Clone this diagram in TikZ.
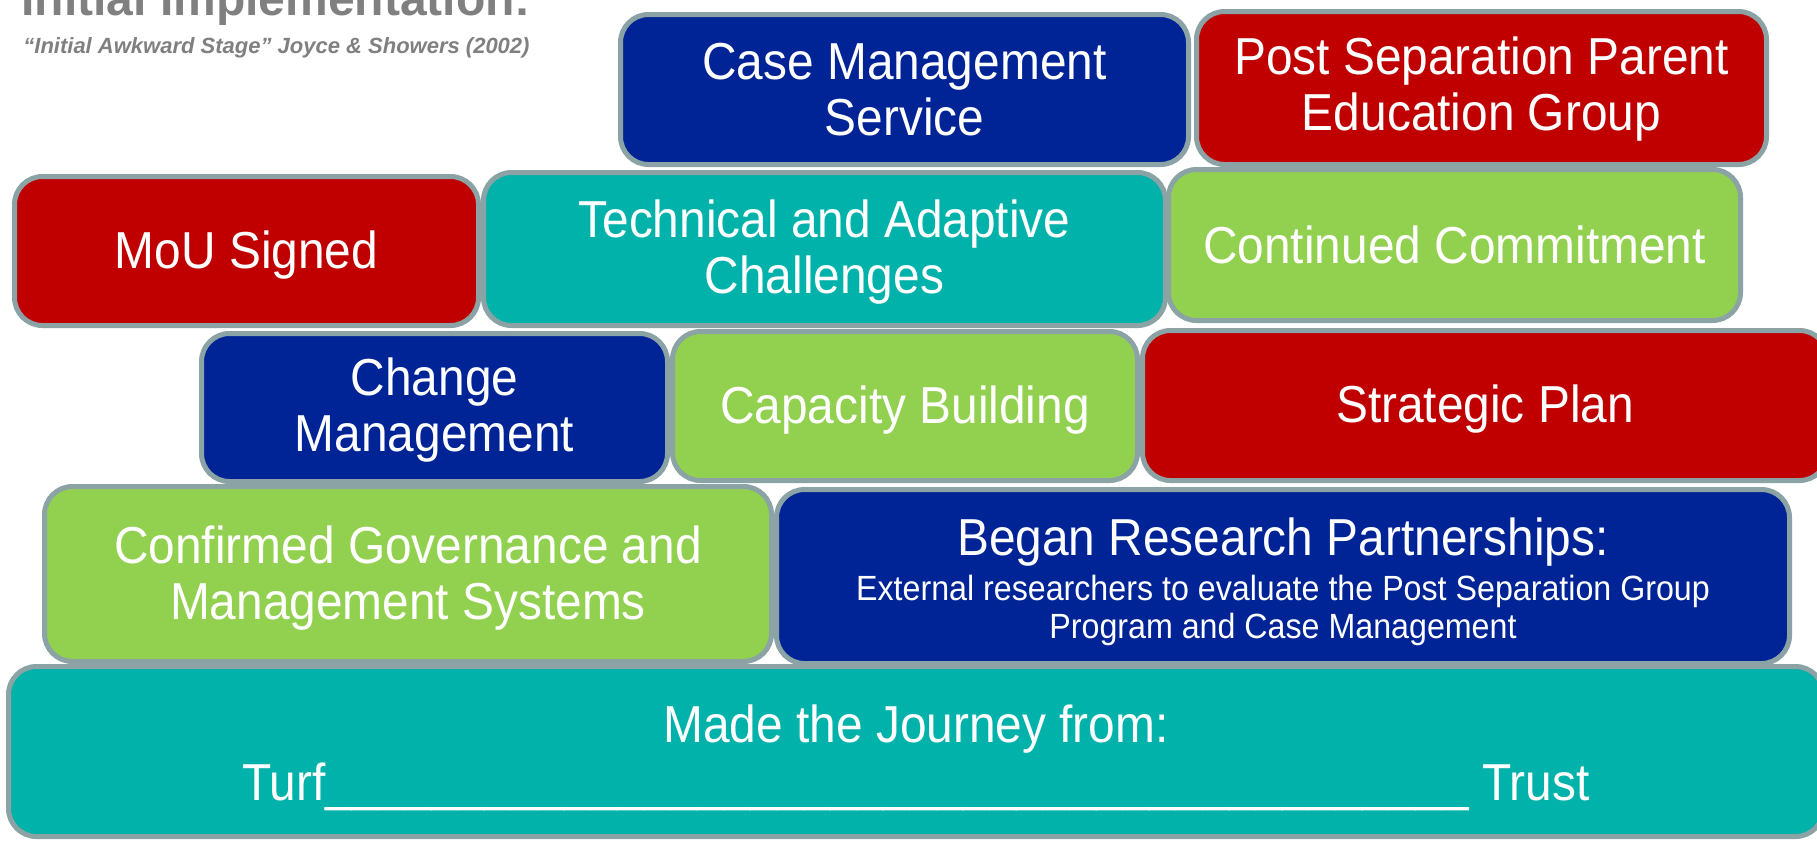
\documentclass[tikz,border=0pt]{standalone}
\usepackage{fontspec}
\setmainfont{Liberation Sans}[FakeStretch=0.92]
\newfontfamily\headfont{Liberation Sans}
\definecolor{cblue}{RGB}{0,36,150}
\definecolor{cred}{RGB}{192,0,0}
\definecolor{cteal}{RGB}{0,178,169}
\definecolor{cgreen}{RGB}{146,208,80}
\definecolor{cborder}{RGB}{140,163,166}
\definecolor{cgray}{RGB}{128,128,128}
\tikzset{
  blk/.style={draw=cborder, line width=2.5pt, rounded corners=14pt, inner sep=0pt},
  txt/.style={inner sep=0pt, align=center, text=white, font=\fontsize{26}{28}\selectfont},
  headtxt/.style={inner sep=0pt, anchor=base west, text=cgray}
}
\begin{document}
\begin{tikzpicture}[x=0.5pt,y=-0.5pt]
\useasboundingbox (0,0) rectangle (1817,841);
\clip (0,0) rectangle (1817,841);
\fill[white] (0,0) rectangle (1817,841);

\node[headtxt, font=\headfont\bfseries\fontsize{24}{28}\selectfont] (title) at (21,15) {Initial Implementation:};
\node[headtxt, font=\headfont\bfseries\itshape\fontsize{11}{13}\selectfont] (sub) at (23,53) {“Initial Awkward Stage” Joyce \& Showers (2002)};

% bottom row
\node[blk, fill=cteal, minimum width=907.5pt, minimum height=85pt] (jour) at (916,751.5) {};
\node[txt, font=\fontsize{26}{29}\selectfont] (jourt) at ([yshift=-3pt]jour.center)
  {Made the Journey from:\\Turf\_\_\_\_\_\_\_\_\_\_\_\_\_\_\_\_\_\_\_\_\_\_\_\_\_\_\_\_\_\_\_\_\_\_\_\_\_\_\_\_\_\_\_ Trust};
% row 4
\node[blk, fill=cgreen, minimum width=363.5pt, minimum height=87.5pt] (gov) at (408,574) {};
\node[txt] (govt) at ([yshift=-1.8pt]gov.center) {Confirmed Governance and\\Management Systems};
\node[blk, fill=cblue, minimum width=506.5pt, minimum height=87pt] (res) at (1283,576.5) {};
\node[txt, font=\fontsize{17.5}{19}\selectfont] (rest) at ([yshift=-2.5pt]res.center)
  {{\fontsize{26}{28}\selectfont Began Research Partnerships:}\\[3.5pt]External researchers to evaluate the Post Separation Group\\Program and Case Management};
% row 3
\node[blk, fill=cblue, minimum width=233pt, minimum height=74pt] (chm) at (434.5,407.5) {};
\node[txt] (chmt) at ([yshift=-1.2pt]chm.center) {Change\\Management};
\node[blk, fill=cgreen, minimum width=232.5pt, minimum height=74.5pt] (cap) at (905,406) {};
\node[txt] (capt) at ([yshift=-1.8pt]cap.center) {Capacity Building};
\node[blk, fill=cred, minimum width=342.5pt, minimum height=75pt] (strat) at (1485,405.5) {};
\node[txt] (stratt) at ([yshift=-1.8pt]strat.center) {Strategic Plan};
% row 2
\node[blk, fill=cred, minimum width=232pt, minimum height=74.5pt] (mou) at (246.5,251) {};
\node[txt] (mout) at ([yshift=-1.8pt]mou.center) {MoU Signed};
\node[blk, fill=cteal, minimum width=341pt, minimum height=76.5pt] (tac) at (824.5,249) {};
\node[txt] (tact) at ([yshift=-1.4pt]tac.center) {Technical and Adaptive\\Challenges};
\node[blk, fill=cgreen, minimum width=286pt, minimum height=75.5pt] (cc) at (1454.5,245) {};
\node[txt] (cct) at (cc.center) {Continued Commitment};
% row 1
\node[blk, fill=cblue, minimum width=284pt, minimum height=75pt] (cms) at (904.5,89.5) {};
\node[txt] (cmst) at (cms.center) {Case Management\\Service};
\node[blk, fill=cred, minimum width=285pt, minimum height=76.5pt] (ps) at (1481.5,88) {};
\node[txt] (pst) at ([yshift=-0.5pt]ps.center) {Post Separation Parent\\Education Group};
\end{tikzpicture}
\end{document}
